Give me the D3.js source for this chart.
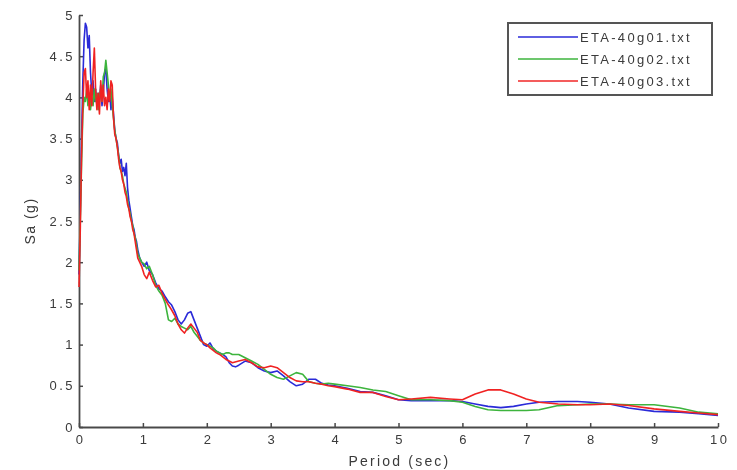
<!DOCTYPE html>
<html>
<head>
<meta charset="utf-8">
<script src="https://cdn.jsdelivr.net/npm/d3@7"></script>
<style>
  body { margin: 0; background: #fff; }
  svg { font-family: "Liberation Sans", Arial, sans-serif; }
  .axis path, .axis line { stroke: #4a4a4a; }
  .axis text { fill: #3a3a3a; font-size: 13px; letter-spacing: 2.5px; }
</style>
</head>
<body>
<div id="main"></div>
<script>
// spectral acceleration records, [period (sec), Sa (g)]
const g01 = [[0.00,1.85],[0.02,2.6],[0.04,3.5],[0.06,4.2],[0.08,4.7],[0.10,4.9],[0.12,4.85],[0.14,4.6],[0.16,4.75],[0.18,4.3],[0.20,4.05],[0.22,4.2],[0.24,3.95],[0.26,4.1],[0.28,3.9],[0.30,4.05],[0.32,3.95],[0.34,4.15],[0.36,3.9],[0.38,4.05],[0.40,4.3],[0.42,4.35],[0.44,4.1],[0.46,3.95],[0.48,4.05],[0.50,3.85],[0.52,4.0],[0.54,3.8],[0.56,3.6],[0.58,3.5],[0.60,3.45],[0.62,3.3],[0.64,3.2],[0.66,3.25],[0.68,3.1],[0.70,3.15],[0.72,3.05],[0.74,3.2],[0.76,2.9],[0.78,2.75],[0.80,2.65],[0.82,2.55],[0.84,2.45],[0.86,2.4],[0.88,2.3],[0.90,2.25],[0.92,2.15],[0.95,2.05],[0.98,2.0],[1.02,1.95],[1.06,2.0],[1.10,1.9],[1.15,1.85],[1.20,1.75],[1.25,1.68],[1.30,1.65],[1.35,1.58],[1.40,1.52],[1.45,1.48],[1.50,1.4],[1.55,1.3],[1.60,1.25],[1.65,1.3],[1.70,1.38],[1.75,1.4],[1.80,1.3],[1.85,1.2],[1.90,1.1],[1.95,1.0],[2.0,0.98],[2.05,1.02],[2.1,0.95],[2.15,0.92],[2.2,0.9],[2.25,0.88],[2.3,0.85],[2.35,0.78],[2.4,0.74],[2.45,0.73],[2.5,0.75],[2.6,0.8],[2.7,0.78],[2.8,0.72],[2.9,0.68],[3.0,0.66],[3.1,0.68],[3.2,0.62],[3.3,0.55],[3.4,0.5],[3.5,0.52],[3.6,0.58],[3.7,0.58],[3.8,0.53],[3.9,0.51],[4.0,0.5],[4.2,0.47],[4.4,0.43],[4.6,0.42],[4.8,0.38],[5.0,0.33],[5.2,0.32],[5.5,0.32],[5.8,0.32],[6.0,0.31],[6.2,0.28],[6.4,0.25],[6.6,0.235],[6.8,0.25],[7.0,0.28],[7.2,0.30],[7.5,0.31],[7.8,0.31],[8.0,0.30],[8.3,0.28],[8.6,0.23],[9.0,0.19],[9.4,0.18],[9.7,0.16],[10.0,0.14]];
const g02 = [[0.00,1.9],[0.02,2.5],[0.04,3.2],[0.06,3.8],[0.08,4.0],[0.10,3.95],[0.12,4.1],[0.14,3.9],[0.16,4.05],[0.18,3.85],[0.20,4.0],[0.22,3.9],[0.24,4.1],[0.26,3.95],[0.28,4.05],[0.30,3.85],[0.32,4.0],[0.34,4.1],[0.36,3.95],[0.38,4.25],[0.40,4.3],[0.42,4.45],[0.44,4.3],[0.46,4.15],[0.48,4.0],[0.50,4.1],[0.52,3.9],[0.54,3.75],[0.56,3.6],[0.58,3.5],[0.60,3.4],[0.62,3.3],[0.64,3.15],[0.66,3.1],[0.68,3.05],[0.70,2.95],[0.72,2.9],[0.74,2.85],[0.76,2.75],[0.78,2.65],[0.80,2.6],[0.82,2.5],[0.84,2.45],[0.86,2.35],[0.88,2.3],[0.90,2.2],[0.92,2.1],[0.95,2.05],[0.98,2.0],[1.02,1.98],[1.06,1.92],[1.10,1.95],[1.15,1.85],[1.20,1.72],[1.25,1.65],[1.30,1.6],[1.35,1.5],[1.40,1.3],[1.45,1.28],[1.50,1.32],[1.55,1.25],[1.60,1.22],[1.65,1.2],[1.70,1.18],[1.75,1.22],[1.80,1.15],[1.85,1.1],[1.90,1.05],[1.95,1.02],[2.0,1.0],[2.05,0.98],[2.1,0.96],[2.15,0.92],[2.2,0.9],[2.25,0.88],[2.3,0.9],[2.35,0.9],[2.4,0.88],[2.5,0.88],[2.6,0.84],[2.7,0.8],[2.8,0.76],[2.9,0.7],[3.0,0.64],[3.1,0.60],[3.2,0.58],[3.3,0.62],[3.4,0.66],[3.5,0.64],[3.6,0.55],[3.7,0.53],[3.8,0.52],[3.9,0.53],[4.0,0.52],[4.2,0.5],[4.4,0.48],[4.6,0.45],[4.8,0.43],[5.0,0.38],[5.2,0.33],[5.5,0.33],[5.8,0.32],[6.0,0.30],[6.2,0.25],[6.4,0.21],[6.6,0.20],[6.8,0.20],[7.0,0.20],[7.2,0.21],[7.5,0.26],[7.8,0.27],[8.0,0.28],[8.3,0.28],[8.6,0.27],[9.0,0.27],[9.4,0.23],[9.7,0.18],[10.0,0.16]];
const g03 = [[0.00,1.7],[0.02,2.4],[0.04,3.3],[0.06,3.9],[0.08,4.3],[0.10,4.35],[0.12,4.0],[0.14,4.2],[0.16,3.85],[0.18,4.15],[0.20,3.9],[0.22,4.3],[0.24,4.6],[0.26,4.1],[0.28,3.85],[0.30,4.05],[0.32,3.8],[0.34,4.2],[0.36,3.95],[0.38,4.15],[0.40,3.9],[0.42,4.0],[0.44,3.85],[0.46,4.1],[0.48,3.95],[0.50,4.2],[0.52,4.15],[0.54,3.75],[0.56,3.55],[0.58,3.5],[0.60,3.4],[0.62,3.25],[0.64,3.15],[0.66,3.1],[0.68,3.0],[0.70,2.95],[0.72,2.85],[0.74,2.8],[0.76,2.7],[0.78,2.65],[0.80,2.55],[0.82,2.5],[0.84,2.4],[0.86,2.35],[0.88,2.25],[0.90,2.15],[0.92,2.05],[0.95,2.0],[0.98,1.95],[1.02,1.85],[1.06,1.8],[1.10,1.88],[1.15,1.78],[1.20,1.7],[1.25,1.72],[1.30,1.62],[1.35,1.55],[1.40,1.48],[1.45,1.42],[1.50,1.35],[1.55,1.25],[1.60,1.18],[1.65,1.14],[1.70,1.2],[1.75,1.25],[1.80,1.2],[1.85,1.15],[1.90,1.05],[1.95,1.02],[2.0,1.0],[2.05,0.96],[2.1,0.93],[2.15,0.9],[2.2,0.88],[2.25,0.85],[2.3,0.82],[2.35,0.8],[2.4,0.78],[2.5,0.8],[2.6,0.82],[2.7,0.78],[2.8,0.73],[2.9,0.72],[3.0,0.74],[3.1,0.72],[3.2,0.66],[3.3,0.6],[3.4,0.56],[3.5,0.55],[3.6,0.55],[3.7,0.53],[3.8,0.52],[3.9,0.5],[4.0,0.49],[4.2,0.46],[4.4,0.42],[4.6,0.42],[4.8,0.37],[5.0,0.33],[5.2,0.34],[5.5,0.36],[5.8,0.34],[6.0,0.33],[6.2,0.40],[6.4,0.45],[6.6,0.45],[6.8,0.40],[7.0,0.34],[7.2,0.30],[7.5,0.28],[7.8,0.27],[8.0,0.27],[8.3,0.28],[8.6,0.26],[9.0,0.22],[9.4,0.19],[9.7,0.17],[10.0,0.15]];

const names = ['ETA-40g01.txt', 'ETA-40g02.txt', 'ETA-40g03.txt'];
const colors = ['#2a2ad8', '#3cb43c', '#f02424'];
const xTicks = [0, 1, 2, 3, 4, 5, 6, 7, 8, 9, 10];
const yTicks = [0, 0.5, 1, 1.5, 2, 2.5, 3, 3.5, 4, 4.5, 5];

const width = 737, height = 470;
const margin = {top: 15, right: 19, bottom: 43, left: 79};

const svg = d3.select('#main').append('svg')
  .attr('width', width)
  .attr('height', height);

// the source picture is soft, so blur everything a touch
svg.append('defs').append('filter')
  .attr('id', 'soft')
  .append('feGaussianBlur')
    .attr('stdDeviation', 0.5);

const root = svg.append('g').attr('filter', 'url(#soft)');

const x = d3.scaleLinear().domain([0, 10]).range([margin.left, width - margin.right]);
const y = d3.scaleLinear().domain([0, 5]).range([height - margin.bottom, margin.top]);

// axes: ticks point inward like matlab
root.append('g')
  .attr('class', 'axis')
  .attr('transform', `translate(0,${height - margin.bottom})`)
  .call(d3.axisBottom(x).tickValues(xTicks).tickSize(-4).tickPadding(8).tickSizeOuter(0))
  .call(g => g.select('.domain').attr('stroke-width', 1.8))
  .call(g => g.selectAll('.tick line').attr('stroke-width', 1.5))
  .call(g => g.selectAll('.tick text').attr('dx', '1.2px'));

root.append('g')
  .attr('class', 'axis')
  .attr('transform', `translate(${margin.left},0)`)
  .call(d3.axisLeft(y).tickValues(yTicks).tickSize(-4).tickPadding(4).tickSizeOuter(0)
    .tickFormat(d => String(d)))
  .call(g => g.select('.domain').attr('stroke-width', 1.8))
  .call(g => g.selectAll('.tick line').attr('stroke-width', 1.5));

const line = d3.line()
  .x(d => x(d[0]))
  .y(d => y(d[1]));

[g01, g02, g03].forEach((s, i) => {
  root.append('path')
    .datum(s)
    .attr('fill', 'none')
    .attr('stroke', colors[i])
    .attr('stroke-width', 1.6)
    .attr('stroke-linejoin', 'round')
    .attr('d', line);
});

// axis titles
root.append('text')
  .attr('x', (margin.left + width - margin.right) / 2 + 1)
  .attr('y', 466)
  .attr('text-anchor', 'middle')
  .attr('fill', '#3a3a3a')
  .attr('font-size', 14)
  .attr('letter-spacing', 2.2)
  .text('Period (sec)');

root.append('text')
  .attr('transform', 'translate(35,221) rotate(-90)')
  .attr('text-anchor', 'middle')
  .attr('fill', '#3a3a3a')
  .attr('font-size', 14)
  .attr('letter-spacing', 1.5)
  .text('Sa (g)');

// legend
const legend = root.append('g').attr('transform', 'translate(508,23)');
legend.append('rect')
  .attr('width', 204)
  .attr('height', 72)
  .attr('fill', '#fff')
  .attr('stroke', '#555')
  .attr('stroke-width', 2);

names.forEach((n, i) => {
  const row = legend.append('g').attr('transform', `translate(0,${14 + i * 22})`);
  row.append('line')
    .attr('x1', 10).attr('x2', 70)
    .attr('stroke', colors[i])
    .attr('stroke-width', 1.6);
  row.append('text')
    .attr('x', 72)
    .attr('dy', '0.35em')
    .attr('fill', '#3a3a3a')
    .attr('font-size', 13)
    .attr('letter-spacing', 2.3)
    .text(n);
});
</script>
</body>
</html>
